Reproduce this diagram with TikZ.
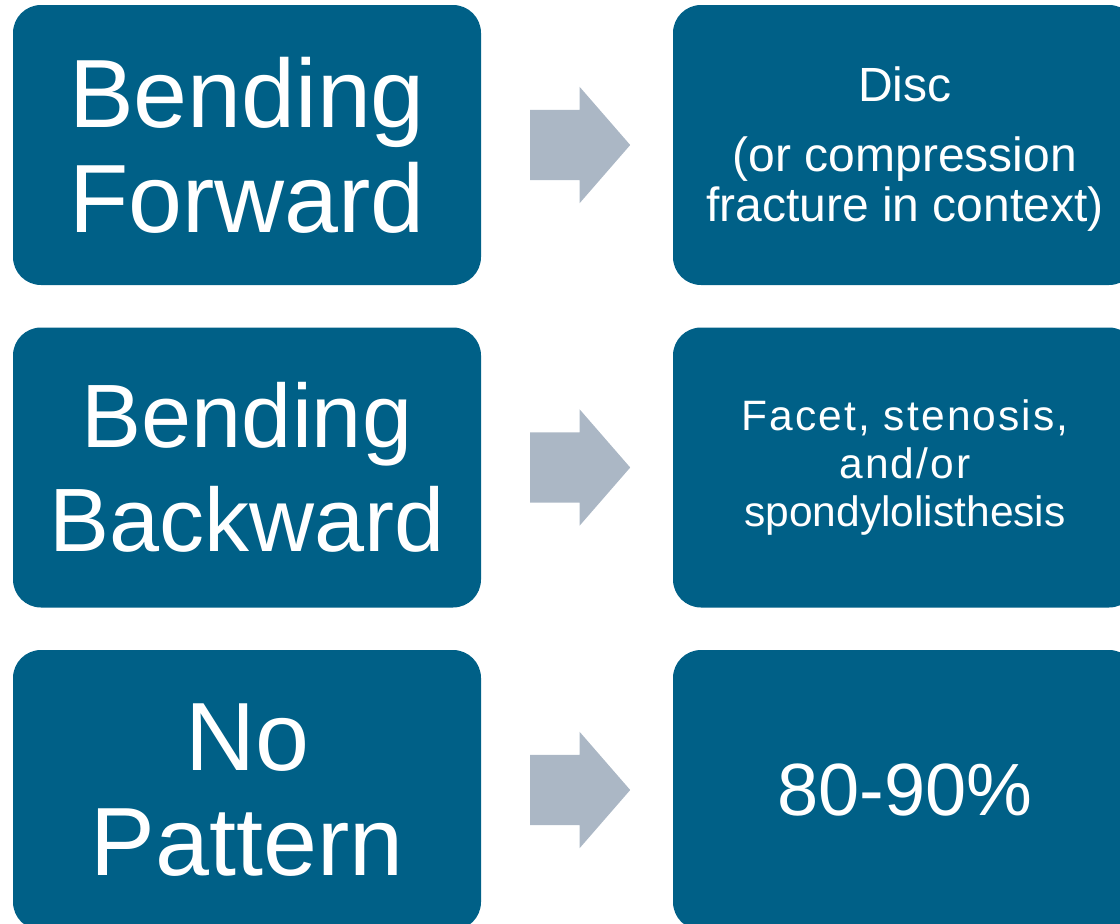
\documentclass[tikz,border=0pt]{standalone}
\usepackage{fontspec}
\setmainfont{Liberation Sans}
\usetikzlibrary{shapes.arrows}
\definecolor{boxblue}{RGB}{0,96,135}
\definecolor{arrowgray}{RGB}{171,183,197}
\tikzset{
    movebox/.style={fill=boxblue, rounded corners=28pt, minimum width=468pt, minimum height=280pt,
        text=white, align=center, inner sep=0pt, font=\fontsize{97}{105}\selectfont},
    causebox/.style={fill=boxblue, rounded corners=28pt, minimum width=464pt, minimum height=280pt,
        text=white, align=center, inner sep=0pt},
    blockarrow/.style={single arrow, fill=arrowgray, inner sep=0pt, inner ysep=35pt, anchor=tail,
        single arrow head extend=23pt, single arrow tip angle=98, minimum height=100pt}
}
\begin{document}
\begin{tikzpicture}[x=1pt,y=-1pt]
    \useasboundingbox (0,0) rectangle (1120,924);
    \clip (0,0) rectangle (1120,924);

    % left column
    \node[movebox] (fwd) at (247,145) {Bending\\Forward};
    \node[movebox, font=\fontsize{90}{104}\selectfont] (bwd) at (247,467.5) {Bending\\Backward};
    \node[movebox] (none) at (247,790) {No\\Pattern};

    % right column
    \node[causebox, font=\fontsize{48}{50}\selectfont] (disc) at (905,145)
        {\rule{0pt}{43pt}Disc\\[20pt](or compression\\fracture in context)};
    \node[causebox, font=\fontsize{42.5}{48}\selectfont] (facet) at (905,467.5)
        {{\addfontfeature{LetterSpace=5}Facet, stenosis,}\\{\addfontfeature{LetterSpace=5}and/or}\\spondylolisthesis};
    \node[causebox, font=\fontsize{74}{80}\selectfont] (pct) at (905,790) {80-90\%};

    \foreach \row/\y in {fwd/145, bwd/467.5, none/790}
        \node[blockarrow] (arr-\row) at (530,\y) {};

\end{tikzpicture}
\end{document}
